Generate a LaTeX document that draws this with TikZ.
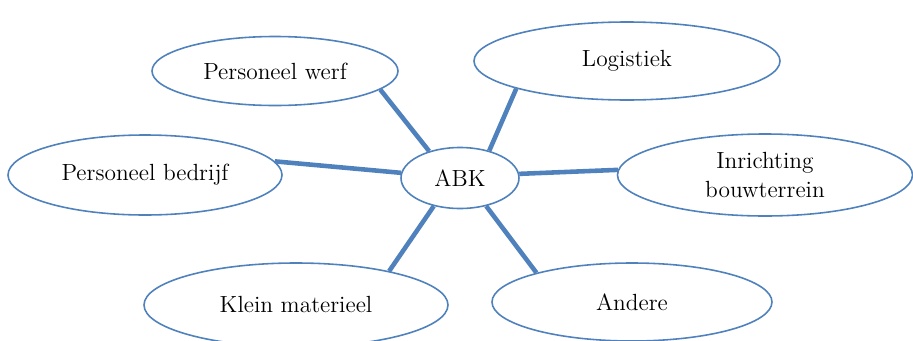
\documentclass[tikz,border=0pt]{standalone}
\usepackage{tikz}
\usetikzlibrary{shapes.geometric,positioning}
\definecolor{abkblue}{RGB}{79,129,189}

\begin{document}
\begin{tikzpicture}
[font=\fontsize{13.3}{16}\selectfont, thick,
topic/.style={ellipse,draw=abkblue,line width=0.9pt,fill=white,inner sep=0pt,
minimum width=#1},
spoke/.style={abkblue,line width=2.6pt}]
\useasboundingbox (0,0) rectangle (18.26,6.8);
\node (abk) at (9.2,3.24)[topic=2.36cm,minimum height=1.22cm] {ABK};
\node (werf) at (5.5,5.38)[topic=4.92cm,minimum height=1.38cm] {Personeel werf};
\node (log) at (12.54,5.58)[topic=6.12cm,minimum height=1.56cm] {Logistiek};
\node (bedr) at (2.9,3.3)[topic=5.48cm,minimum height=1.6cm] {Personeel bedrijf};
\node (inr) at (15.3,3.3)[topic=5.9cm,minimum height=1.64cm,align=center] {Inrichting\\bouwterrein};
\node (klein) at (5.92,0.7)[topic=6.08cm,minimum height=1.68cm] {Klein materieel};
\node (and) at (12.64,0.76)[topic=5.6cm,minimum height=1.56cm] {Andere};

\draw[spoke] (abk.139) -- (werf.-10);
\draw[spoke] (abk.43) -- (log.-166);
\draw[spoke] (abk.175) -- (bedr.6);
\draw[spoke] (abk.4) -- (inr.178);
\draw[spoke] (abk.-133) -- (klein.20);
\draw[spoke] (abk.-47) -- (and.163);

\end{tikzpicture}
\end{document}
